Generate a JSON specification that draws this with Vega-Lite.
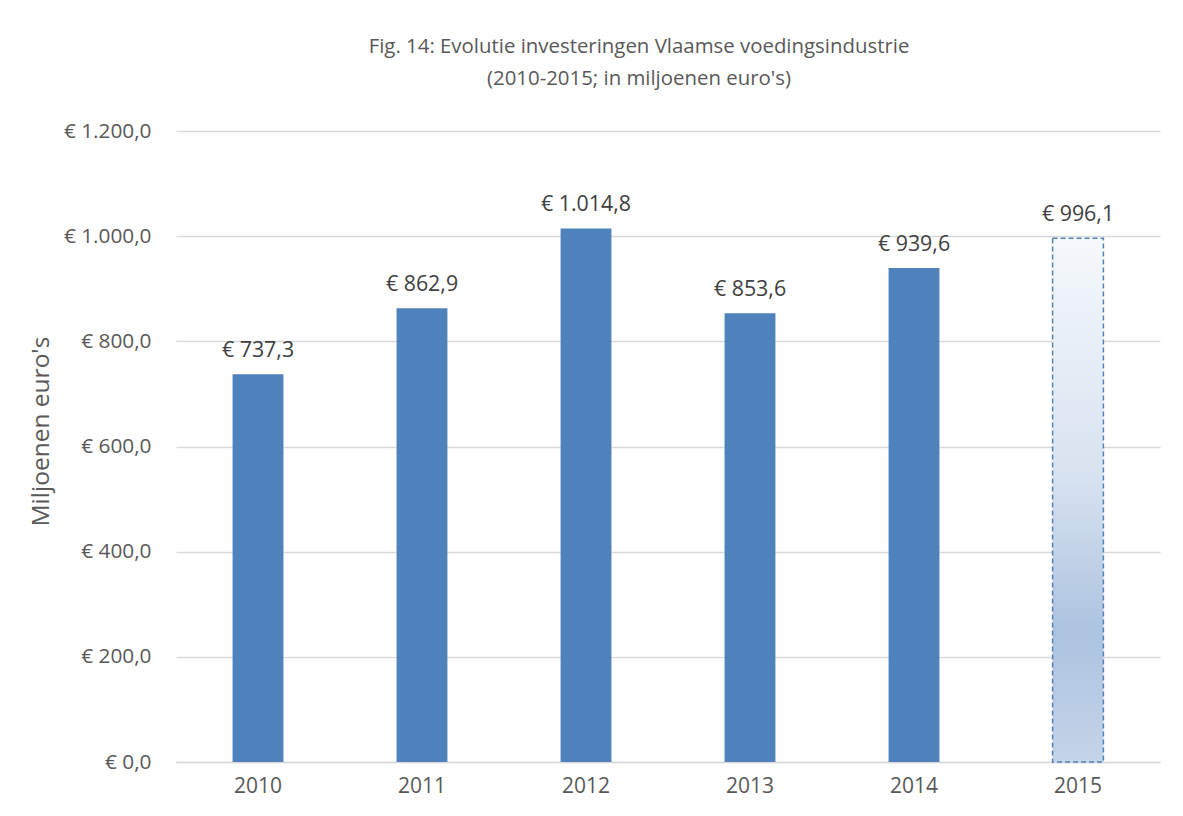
{
  "$schema": "https://vega.github.io/schema/vega-lite/v6.json",
  "autosize": {"type": "none"},
  "width": 984,
  "height": 631,
  "padding": {"left": 176, "top": 131, "right": 23, "bottom": 54},
  "background": "white",
  "config": {
    "locale": {"number": {"decimal": ",", "thousands": ".", "grouping": [3], "currency": ["€ ", ""]}},
    "font": "Open Sans",
    "view": {"stroke": null}
  },
  "title": {
    "text": ["Fig. 14: Evolutie investeringen Vlaamse voedingsindustrie", "(2010-2015; in miljoenen euro's)"],
    "font": "Open Sans",
    "fontSize": 20.4,
    "fontWeight": "normal",
    "color": "#595959",
    "lineHeight": 32,
    "anchor": "middle",
    "dx": -29,
    "offset": 31
  },
  "data": {
    "values": [
      {"jaar": "2010", "waarde": 737.3},
      {"jaar": "2011", "waarde": 862.9},
      {"jaar": "2012", "waarde": 1014.8},
      {"jaar": "2013", "waarde": 853.6},
      {"jaar": "2014", "waarde": 939.6},
      {"jaar": "2015", "waarde": 996.1}
    ]
  },
  "encoding": {
    "x": {
      "field": "jaar", "type": "ordinal", "title": null,
      "scale": {"paddingInner": 0.69, "paddingOuter": 0.345},
      "axis": {"labelAngle": 0, "labelFont": "Open Sans", "labelFontSize": 21, "labelColor": "#595959", "labelPadding": 13, "ticks": false, "domainColor": "#d9d9d9", "domainWidth": 1.5}
    },
    "y": {
      "field": "waarde", "type": "quantitative",
      "title": "Miljoenen euro's",
      "scale": {"domain": [0, 1200]},
      "axis": {"values": [0, 200, 400, 600, 800, 1000, 1200], "format": "$,.1f", "labelFont": "Open Sans", "labelFontSize": 20.8, "labelColor": "#595959", "labelPadding": 25, "ticks": false, "domain": false, "gridColor": "#d9d9d9", "gridWidth": 1.5, "titleFont": "Open Sans", "titleFontSize": 24.5, "titleFontWeight": "normal", "titleColor": "#595959", "titlePadding": 10, "titleY": 300}
    }
  },
  "layer": [
    {
      "transform": [{"filter": "datum.jaar != '2015'"}],
      "mark": {"type": "bar", "color": "#4f81bd"}
    },
    {
      "transform": [{"filter": "datum.jaar == '2015'"}],
      "mark": {
        "type": "bar",
        "fill": {"gradient": "linear", "x1": 0, "y1": 0, "x2": 0, "y2": 1, "stops": [
          {"offset": 0, "color": "#f5f8fc"},
          {"offset": 0.45, "color": "#d8e3f0"},
          {"offset": 0.75, "color": "#adc3e0"},
          {"offset": 1, "color": "#c4d4e9"}
        ]},
        "stroke": "#4f81bd",
        "strokeWidth": 1.5,
        "strokeDash": [5, 3]
      }
    },
    {
      "mark": {"type": "text", "baseline": "bottom", "dy": -13, "font": "Open Sans", "fontSize": 21.4, "color": "#404040"},
      "encoding": {"text": {"field": "waarde", "type": "quantitative", "format": "$,.1f"}}
    }
  ]
}
